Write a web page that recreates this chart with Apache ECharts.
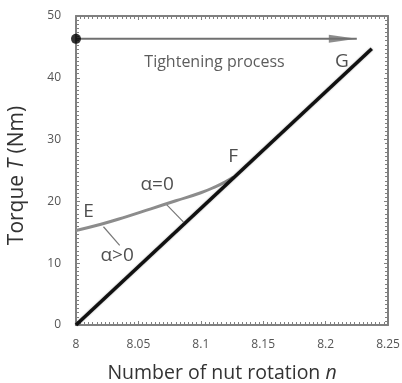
<!DOCTYPE html>
<html>
<head>
<meta charset="utf-8">
<script src="https://cdn.jsdelivr.net/npm/echarts@6/dist/echarts.min.js"></script>
<style>
  html, body { margin: 0; padding: 0; background: #fff; }
  #chart { width: 402px; height: 383px; }
</style>
</head>
<body>
<div id="chart"></div>
<script>
// Nut rotation n vs. tightening torque T
const xTicks = [8, 8.05, 8.1, 8.15, 8.2, 8.25];
const yTicks = [0, 10, 20, 30, 40, 50];

// Elastic tightening line (alpha = 0), origin to point G
const lineAlpha0 = [[8.0, 0.0], [8.237, 44.7]];
// Curve with alpha > 0, from E joining the line at F
const lineAlphaPos = [
  [8.0, 15.3], [8.02, 16.3], [8.04, 17.5], [8.06, 18.8],
  [8.08, 20.1], [8.1, 21.4], [8.112, 22.4], [8.12, 23.2], [8.126, 23.9]
];
// Leader lines for the two alpha labels
const leaderAlphaPos = [[8.022, 15.9], [8.035, 12.9]];
const leaderAlpha0 = [[8.072, 19.6], [8.086, 16.7]];
// Tightening process arrow
const arrowStart = [8.0, 46.3];
const arrowEnd = [8.225, 46.3];
// Point and curve labels
const pointLabels = [
  { name: 'E', value: [8.01, 18.3] },
  { name: 'F', value: [8.126, 27.3] },
  { name: 'G', value: [8.213, 42.6] },
  { name: 'α=0', value: [8.065, 22.7] },
  { name: 'α>0', value: [8.033, 11.3] }
];
const processLabel = [{ name: 'Tightening process', value: [8.111, 42.5] }];

const chart = echarts.init(document.getElementById('chart'), null, { renderer: 'canvas' });

const FONT = 'Open Sans';
const frameColor = '#808080';

function tickAxisCommon() {
  return {
    axisLine: { show: true, onZero: false, lineStyle: { color: frameColor, width: 2 } },
    axisTick: { show: true, inside: true, length: 4, lineStyle: { color: frameColor, width: 1 } },
    minorTick: { show: true, splitNumber: 15, length: 3, lineStyle: { color: frameColor, width: 1 } },
    splitLine: { show: false },
    axisLabel: { show: false }
  };
}

const xBase = { type: 'value', min: 8, max: 8.25, interval: 0.05 };
const yBase = { type: 'value', min: 0, max: 50, interval: 10 };
const tickLabelStyle = { show: true, color: '#555', fontFamily: FONT, fontSize: 12 };

chart.setOption({
  animation: false,
  backgroundColor: '#fff',
  grid: { left: 76, right: 14, top: 16, bottom: 58, outerBoundsMode: 'none', containLabel: false },
  xAxis: [
    Object.assign({}, xBase, tickAxisCommon(), {
      position: 'bottom',
      axisLabel: Object.assign({}, tickLabelStyle, {
        margin: 14,
        formatter: v => String(+v.toFixed(2))
      }),
      name: 'Number of nut rotation {i|n}',
      nameLocation: 'middle',
      nameGap: 38,
      nameTextStyle: {
        color: '#333', fontFamily: FONT, fontSize: 19.5, padding: [0, 20, 0, 0],
        rich: { i: { fontStyle: 'italic', color: '#333', fontFamily: FONT, fontSize: 19.5 } }
      }
    }),
    Object.assign({}, xBase, tickAxisCommon(), { position: 'top' })
  ],
  yAxis: [
    Object.assign({}, yBase, tickAxisCommon(), {
      position: 'left',
      axisLabel: Object.assign({}, tickLabelStyle, { margin: 15 }),
      name: 'Torque {i|T} (Nm)',
      nameLocation: 'middle',
      nameGap: 48,
      nameRotate: 90,
      nameTextStyle: {
        color: '#333', fontFamily: FONT, fontSize: 21, padding: [0, 10, 0, 0],
        rich: { i: { fontStyle: 'italic', color: '#333', fontFamily: FONT, fontSize: 21 } }
      }
    }),
    Object.assign({}, yBase, tickAxisCommon(), { position: 'right' })
  ],
  series: [
    {
      type: 'line', data: lineAlphaPos, symbol: 'none', smooth: true,
      lineStyle: { color: '#8c8c8c', width: 3 }, z: 3
    },
    {
      type: 'line', data: lineAlpha0, symbol: 'none',
      lineStyle: { color: '#111', width: 3.5, shadowColor: 'rgba(0,0,0,0.35)', shadowBlur: 2 }, z: 4
    },
    {
      type: 'line', data: leaderAlphaPos, symbol: 'none',
      lineStyle: { color: '#777', width: 1.2 }, z: 2
    },
    {
      type: 'line', data: leaderAlpha0, symbol: 'none',
      lineStyle: { color: '#777', width: 1.2 }, z: 2
    },
    {
      type: 'line', data: [arrowStart, arrowEnd], symbol: 'none',
      lineStyle: { color: '#707070', width: 2 }, z: 5
    },
    {
      type: 'scatter', data: [arrowStart], symbol: 'circle', symbolSize: 10,
      itemStyle: { color: '#000' }, z: 6
    },
    {
      type: 'scatter', data: [arrowEnd],
      symbol: 'path://M0,0 L28,4 L0,8 Z', symbolSize: [28, 8], symbolOffset: [-14, 0],
      itemStyle: { color: '#707070' }, z: 6
    },
    {
      type: 'scatter', data: pointLabels, symbolSize: 0, z: 7,
      label: {
        show: true, position: 'inside', formatter: p => p.name,
        color: '#222', fontFamily: FONT, fontSize: 19
      }
    },
    {
      type: 'scatter', data: processLabel, symbolSize: 0, z: 7,
      label: {
        show: true, position: 'inside', formatter: p => p.name,
        color: '#333', fontFamily: FONT, fontSize: 16
      }
    }
  ]
});
</script>
</body>
</html>
